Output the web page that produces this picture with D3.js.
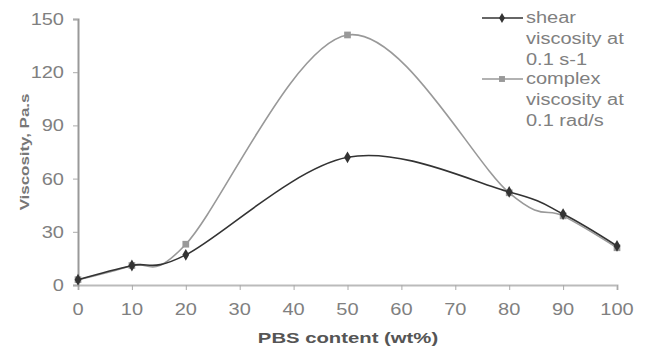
<!DOCTYPE html>
<html>
<head>
<meta charset="utf-8">
<script src="https://cdn.jsdelivr.net/npm/d3@7"></script>
<style>
  html, body { margin: 0; padding: 0; background: #fff; }
  svg { display: block; font-family: Arial, "Liberation Sans", sans-serif; }
</style>
</head>
<body>
<svg id="chart" width="646" height="350"></svg>
<script>
// PBS content (wt%)
const pbsContent = [0, 10, 20, 50, 80, 90, 100];
// Shear viscosity at 0.1 s-1 (Pa.s)
const shearViscosity = [3, 11, 17, 72, 52.5, 40, 22];
// Complex viscosity at 0.1 rad/s (Pa.s)
const complexViscosity = [3, 11, 23, 141, 52, 39, 21];
const xTicks = [0, 10, 20, 30, 40, 50, 60, 70, 80, 90, 100];
const yTicks = [0, 30, 60, 90, 120, 150];
const seriesNames = [["shear", "viscosity at", "0.1 s-1"], ["complex", "viscosity at", "0.1 rad/s"]];

const svg = d3.select("#chart");
const x = d3.scaleLinear().domain([0, 100]).range([78, 617]);
const y = d3.scaleLinear().domain([0, 150]).range([285, 19]);

// text whose glyphs are widened along the reading direction
function wideText(g, px, py, str, opts, sx = 1.25, rot = 0) {
  const t = g.append("text")
    .attr("transform", `translate(${px},${py}) rotate(${rot}) scale(${sx},1)`)
    .text(str);
  Object.entries(opts || {}).forEach(([k, v]) => t.attr(k, v));
  return t;
}

// axes
const xAxis = svg.append("g").attr("transform", `translate(0,${y(0)})`)
  .call(d3.axisBottom(x).tickValues(xTicks).tickSize(5).tickFormat(""));
xAxis.select(".domain").attr("stroke", "#bbb").attr("stroke-width", 2);
xAxis.selectAll(".tick line").attr("stroke", "#aaa");

const yAxis = svg.append("g").attr("transform", `translate(${x(0)},0)`)
  .call(d3.axisLeft(y).tickValues(yTicks).tickSize(5).tickFormat(""));
yAxis.select(".domain").attr("stroke", "#999").attr("stroke-width", 2);
yAxis.selectAll(".tick line").attr("stroke", "#aaa");

const labels = svg.append("g").attr("fill", "#808080").attr("font-size", 16);
xTicks.forEach(v => wideText(labels, x(v), 315, v, {"text-anchor": "middle"}));
yTicks.forEach(v => wideText(labels, 64, y(v) + 6, v, {"text-anchor": "end"}));

// axis titles
wideText(svg, 348, 343, "PBS content (wt%)",
  {"text-anchor": "middle", "font-size": 14, "font-weight": "bold", "fill": "#555"}, 1.45);
wideText(svg, 29, 152, "Viscosity, Pa.s",
  {"text-anchor": "middle", "font-size": 13, "font-weight": "bold", "fill": "#777"}, 1.3, -90);

// smoothed series lines
const line = d3.line().x(d => x(d[0])).y(d => y(d[1])).curve(d3.curveCardinal.tension(0));
const series = [
  { vals: complexViscosity, color: "#999", marker: "square" },
  { vals: shearViscosity, color: "#333", marker: "diamond" }
];
series.forEach(s => {
  const pts = pbsContent.map((p, i) => [p, s.vals[i]]);
  svg.append("path").attr("d", line(pts)).attr("fill", "none")
    .attr("stroke", s.color).attr("stroke-width", 1.6);
  const sym = d3.symbol().type(s.marker === "square" ? d3.symbolSquare : d3.symbolDiamond)
    .size(s.marker === "square" ? 45 : 40);
  svg.append("g").selectAll("path").data(pts).join("path")
    .attr("transform", d => `translate(${x(d[0])},${y(d[1])})`)
    .attr("d", sym).attr("fill", s.color);
});

// legend
const legend = svg.append("g").attr("font-size", 16).attr("fill", "#808080");
const legendStyle = [series[1], series[0]];
seriesNames.forEach((lines, i) => {
  const top = 18 + i * 61;
  legend.append("line").attr("x1", 482).attr("x2", 523).attr("y1", top).attr("y2", top)
    .attr("stroke", legendStyle[i].color).attr("stroke-width", 1.6);
  const sym = d3.symbol().type(i === 0 ? d3.symbolDiamond : d3.symbolSquare).size(i === 0 ? 30 : 35);
  legend.append("path").attr("transform", `translate(502,${top})`).attr("d", sym)
    .attr("fill", legendStyle[i].color);
  lines.forEach((ln, j) => wideText(legend, 526, top + 5 + j * 21, ln));
});
</script>
</body>
</html>
